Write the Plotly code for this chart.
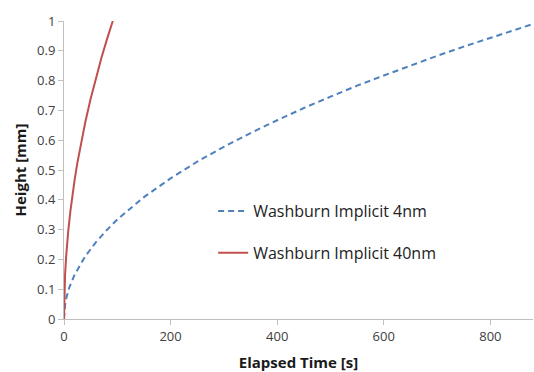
import plotly.graph_objects as go

# Data
t_4nm = [0, 2, 5, 10, 20, 40, 60, 80, 100, 150, 200, 250, 300, 350, 400,
         450, 500, 550, 600, 650, 700, 750, 800, 850, 880]
h_4nm = [0, 0.047, 0.075, 0.106, 0.149, 0.211, 0.258, 0.298, 0.334, 0.409,
         0.472, 0.528, 0.578, 0.624, 0.667, 0.708, 0.746, 0.783, 0.817,
         0.851, 0.883, 0.914, 0.944, 0.973, 0.99]

t_40nm = [0, 0.5, 1, 2, 4, 6, 8, 12, 16, 20, 25, 30, 40, 50, 60, 70, 80, 91.5]
h_40nm = [0, 0.074, 0.105, 0.148, 0.209, 0.256, 0.296, 0.362, 0.418, 0.468,
          0.523, 0.573, 0.661, 0.739, 0.81, 0.875, 0.935, 1.0]

name_4nm = "Washburn Implicit 4nm"
name_40nm = "Washburn Implicit 40nm"

x_ticks = [0, 200, 400, 600, 800]
y_ticks = [0, 0.1, 0.2, 0.3, 0.4, 0.5, 0.6, 0.7, 0.8, 0.9, 1]

FONT = "Open Sans"

fig = go.Figure()
fig.add_trace(go.Scatter(x=t_4nm, y=h_4nm, mode="lines", name=name_4nm,
                         line=dict(color="#4F81BD", width=2, dash="6px,4px"),
                         legend="legend", showlegend=True))
fig.add_trace(go.Scatter(x=t_40nm, y=h_40nm, mode="lines", name=name_40nm,
                         line=dict(color="#C0504D", width=2),
                         legend="legend2", showlegend=True))

legend_common = dict(xanchor="left", yanchor="middle",
                     bgcolor="rgba(0,0,0,0)",
                     font=dict(family=FONT, size=16, color="#222222"),
                     itemwidth=30)

fig.update_layout(
    width=534, height=372,
    margin=dict(l=64, r=1, t=21, b=53),
    paper_bgcolor="white", plot_bgcolor="white",
    showlegend=True,
    font=dict(family=FONT, color="#404040"),
    legend=dict(x=0.318, y=0.362, **legend_common),
    legend2=dict(x=0.318, y=0.222, **legend_common),
    xaxis=dict(
        range=[0, 880], tickvals=x_ticks, ticks="outside", ticklen=5,
        tickcolor="#BFBFBF", showline=True, linecolor="#BFBFBF", linewidth=1,
        showgrid=False, zeroline=False, automargin=False,
        tickfont=dict(family=FONT, size=13, color="#404040"),
        title=dict(text="<b>Elapsed Time [s]</b>", standoff=13,
                   font=dict(family=FONT, size=15, color="#1a1a1a")),
    ),
    yaxis=dict(
        range=[0, 1], tickvals=y_ticks, ticks="outside", ticklen=5,
        tickcolor="#BFBFBF", showline=True, linecolor="#BFBFBF", linewidth=1,
        showgrid=False, zeroline=False, automargin=False,
        tickfont=dict(family=FONT, size=13, color="#404040"),
        title=dict(text="<b>Height [mm]</b>", standoff=6,
                   font=dict(family=FONT, size=15, color="#1a1a1a")),
    ),
)

fig.write_html("out.html", config={"displayModeBar": False},
               post_script="document.body.style.margin='0';")
